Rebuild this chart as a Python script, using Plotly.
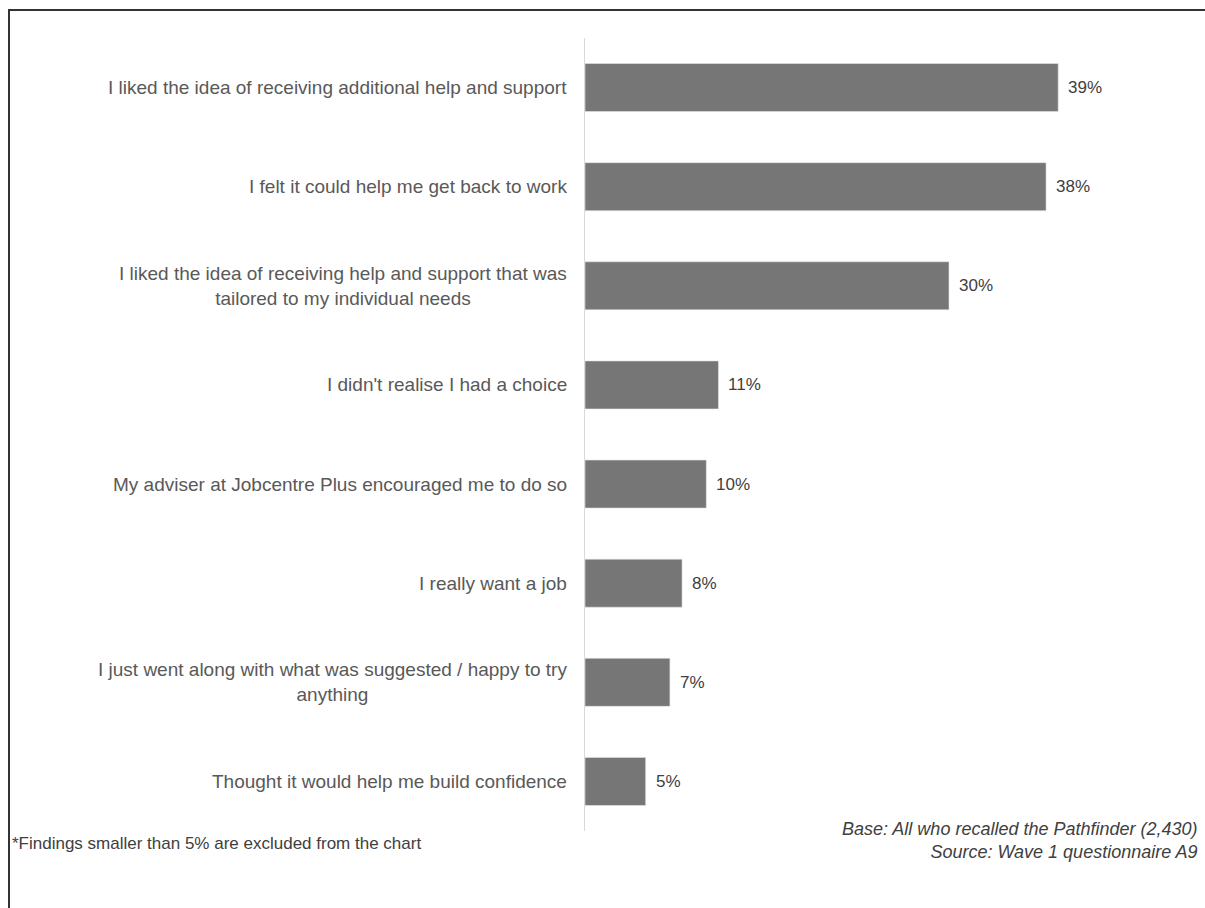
import plotly.graph_objects as go

categories = [
    "I liked the idea of receiving additional help and support",
    "I felt it could help me get back to work",
    "I liked the idea of receiving help and support that was<br>tailored to my individual needs",
    "I didn't realise I had a choice",
    "My adviser at Jobcentre Plus encouraged me to do so",
    "I really want a job",
    "I just went along with what was suggested / happy to try<br>anything",
    "Thought it would help me build confidence",
]
values = [39, 38, 30, 11, 10, 8, 7, 5]
value_labels = ["39%", "38%", "30%", "11%", "10%", "8%", "7%", "5%"]
footnote_left = "*Findings smaller than 5% are excluded from the chart"
footnote_right = "Base: All who recalled the Pathfinder (2,430)<br>Source: Wave 1 questionnaire A9"

W, H = 1205, 908
L, R, T, B = 585, 74, 38, 77
pw, ph = W - L - R, H - T - B

FONT = "Liberation Sans, Arial, sans-serif"

fig = go.Figure(go.Bar(
    x=values, y=categories, orientation="h",
    marker=dict(color="#767676", line=dict(color="#e6e6e6", width=0.6)),
    width=0.485, hoverinfo="skip",
))

annotations = []
for c in categories:
    annotations.append(dict(
        x=0, xref="paper", y=c, yref="y", text=c, showarrow=False,
        xanchor="right", yanchor="middle", align="center", xshift=-16,
        font=dict(size=19, color="#595959", family=FONT),
    ))
for c, v, t in zip(categories, values, value_labels):
    annotations.append(dict(
        x=v, xref="x", y=c, yref="y", text=t, showarrow=False,
        xanchor="left", yanchor="middle", xshift=8,
        font=dict(size=17, color="#404040", family=FONT),
    ))

def px_to_paper_x(px):
    return (px - L) / pw

def px_to_paper_y(py):
    return 1 - (py - T) / ph

annotations.append(dict(
    x=px_to_paper_x(10), xref="paper", y=px_to_paper_y(843), yref="paper",
    text=footnote_left, showarrow=False, xanchor="left", yanchor="middle",
    font=dict(size=17, color="#404040", family=FONT),
))
annotations.append(dict(
    x=px_to_paper_x(1200), xref="paper", y=px_to_paper_y(840), yref="paper",
    text="<i>" + footnote_right + "</i>", showarrow=False, xanchor="right", yanchor="middle",
    align="right", font=dict(size=18, color="#404040", family=FONT),
))

fig.update_layout(
    width=W, height=H,
    margin=dict(l=L, r=R, t=T, b=B),
    paper_bgcolor="white", plot_bgcolor="white",
    showlegend=False,
    annotations=annotations,
    xaxis=dict(range=[0, 45], visible=False, fixedrange=True),
    yaxis=dict(autorange="reversed", showticklabels=False, showgrid=False,
               showline=True, linecolor="#d9d9d9", linewidth=1, ticks="",
               zeroline=False, fixedrange=True),
    shapes=[dict(type="rect", xref="paper", yref="paper",
                 x0=px_to_paper_x(9), x1=px_to_paper_x(1215),
                 y0=px_to_paper_y(920), y1=px_to_paper_y(10),
                 line=dict(color="#333333", width=2), fillcolor="rgba(0,0,0,0)",
                 layer="below")],
)

fig.write_html("out.html", config={"displayModeBar": False},
               post_script="document.body.style.margin='0';")
